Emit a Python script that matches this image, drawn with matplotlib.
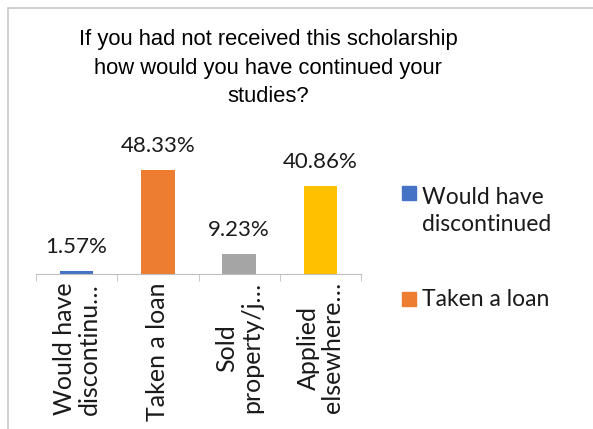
import numpy as np
import matplotlib
matplotlib.use("Agg")
import matplotlib.pyplot as plt
from matplotlib.patches import Rectangle

# chart data
categories = ["Would have\ndiscontinu\u2026", "Taken a loan", "Sold\nproperty/j\u2026", "Applied\nelsewhere\u2026"]
values = [1.57, 48.33, 9.23, 40.86]
value_labels = ["1.57%", "48.33%", "9.23%", "40.86%"]
colors = ["#4472C4", "#ED7D31", "#A5A5A5", "#FFC000"]
legend_names = ["Would have\ndiscontinued", "Taken a loan"]

title = "If you had not received this scholarship\nhow would you have continued your\nstudies?"

W, H = 593, 429
txt = "#1a1a1a"
fig = plt.figure(figsize=(W / 100, H / 100), dpi=100)

# outer chart border (light gray, like the Excel chart area)
fig.patches.append(Rectangle((8 / W, -0.01), 1.0, 1 - 8 / H + 0.01, transform=fig.transFigure,
                             fill=False, edgecolor="#C8C8C8", linewidth=1.2))

ax = fig.add_axes([36 / W, 1 - 274 / H, (361 - 36) / W, (274 - 145) / H])
x = np.arange(len(values))
bars = ax.bar(x, values, width=0.41, color=colors)
ax.set_xlim(-0.5, len(values) - 0.5)
ax.set_ylim(0, 60)

for xi, v, lab in zip(x, values, value_labels):
    ax.annotate(lab, (xi, v), xytext=(0, 13), textcoords="offset points",
                ha="center", va="baseline", fontsize=16, family="Lato", color=txt)

for s in ["top", "right", "left"]:
    ax.spines[s].set_visible(False)
ax.spines["bottom"].set_color("#BFBFBF")
ax.set_yticks([])

ax.set_xticks(x)
ax.set_xticklabels(categories, rotation=90, fontsize=18, family="Lato", color=txt,
                   linespacing=1.1)
ax.tick_params(axis="x", which="major", length=0, pad=6)
ax.set_xticks(np.arange(-0.5, len(values)), minor=True)
ax.tick_params(axis="x", which="minor", length=5, color="#BFBFBF", direction="out")

fig.text(268 / W, 1 - 29 / H, title, ha="center", va="top", fontsize=15.8,
         family="Liberation Sans", linespacing=1.48, color="black")

# legend (only the first two entries fit, as in the original)
sq_y = [200, 306]     # bottom edge of each square (= baseline of first text line)
leg_y = [231, 306]    # baseline of the last text line
for name, col, ys, yb in zip(legend_names, colors, sq_y, leg_y):
    fig.patches.append(Rectangle((402 / W, 1 - ys / H), 14 / W, 14 / H,
                                 transform=fig.transFigure, color=col))
    fig.text(422 / W, 1 - yb / H, name, ha="left", va="baseline", fontsize=16.5,
             family="Lato", color=txt, linespacing=1.38)

fig.savefig("out.png", dpi=100)
